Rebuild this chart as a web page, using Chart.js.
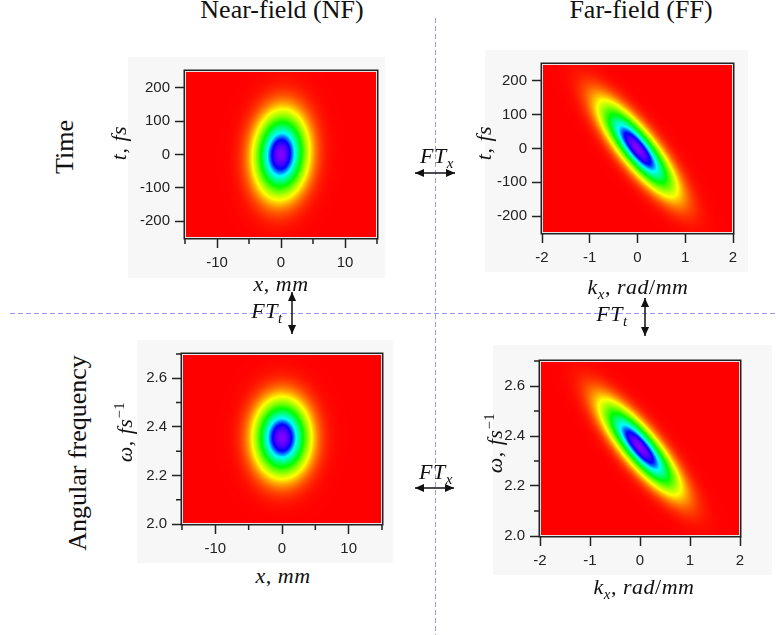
<!DOCTYPE html>
<html>
<head>
<meta charset="utf-8">
<script src="https://cdn.jsdelivr.net/npm/chart.js@4.4.0/dist/chart.umd.min.js"></script>
<style>
  body { margin:0; width:776px; height:635px; background:#fff; position:relative; overflow:hidden;
         font-family:"Liberation Serif","Times New Roman",serif; color:#111; }
  canvas { position:absolute; background:#f7f7f7; }
  svg { position:absolute; left:0; top:0; }
  .lbl { position:absolute; transform:translate(-50%,-50%); white-space:nowrap; line-height:1; }
  .rot { transform:translate(-50%,-50%) rotate(-90deg); }
  .head { font-size:26px; }
  .math { font-size:22px; letter-spacing:0.5px; }
  sub, sup { font-size:68%; line-height:0; }
</style>
</head>
<body>
<svg width="776" height="635">
  <defs>
    <marker id="ah" viewBox="0 0 10 10" refX="10" refY="5" markerUnits="userSpaceOnUse"
            markerWidth="10" markerHeight="9" orient="auto-start-reverse">
      <path d="M0,0.5 L10,5 L0,9.5 z" fill="#111"/>
    </marker>
  </defs>
  <line x1="435.5" y1="18" x2="435.5" y2="635" stroke="#9a9aff" stroke-width="1" stroke-dasharray="5 3"/>
  <line x1="10" y1="313.5" x2="776" y2="313.5" stroke="#9a9aff" stroke-width="1" stroke-dasharray="5 3"/>
  <line x1="415" y1="173" x2="455" y2="173" stroke="#111" stroke-width="1.5" marker-start="url(#ah)" marker-end="url(#ah)"/>
  <line x1="415" y1="488" x2="454" y2="488" stroke="#111" stroke-width="1.5" marker-start="url(#ah)" marker-end="url(#ah)"/>
  <line x1="292" y1="292" x2="292" y2="334" stroke="#111" stroke-width="1.5" marker-start="url(#ah)" marker-end="url(#ah)"/>
  <line x1="645" y1="298" x2="645" y2="336" stroke="#111" stroke-width="1.5" marker-start="url(#ah)" marker-end="url(#ah)"/>
</svg>

<canvas id="nfTime" width="257" height="221" style="left:128px;top:57px"></canvas>
<canvas id="ffTime" width="263" height="222" style="left:485px;top:50px"></canvas>
<canvas id="nfFreq" width="256" height="223" style="left:137px;top:340px"></canvas>
<canvas id="ffFreq" width="279" height="230" style="left:493px;top:345px"></canvas>

<div class="lbl head" style="left:282px;top:10px">Near-field (NF)</div>
<div class="lbl head" style="left:641px;top:10px">Far-field (FF)</div>
<div class="lbl head rot" style="left:65px;top:147px">Time</div>
<div class="lbl head rot" style="left:78px;top:453px">Angular frequency</div>

<div class="lbl math rot" style="left:119px;top:143px"><i>t</i>, <i>fs</i></div>
<div class="lbl math rot" style="left:484px;top:143px"><i>t</i>, <i>fs</i></div>
<div class="lbl math rot" style="left:125px;top:432px"><i>ω</i>, <i>fs</i><sup>−1</sup></div>
<div class="lbl math rot" style="left:495px;top:443px"><i>ω</i>, <i>fs</i><sup>−1</sup></div>
<div class="lbl math" style="left:281px;top:284px"><i>x</i>, <i>mm</i></div>
<div class="lbl math" style="left:283px;top:576px"><i>x</i>, <i>mm</i></div>
<div class="lbl math" style="left:638px;top:287px"><i>k</i><sub><i>x</i></sub>, <i>rad</i>/<i>mm</i></div>
<div class="lbl math" style="left:644px;top:587px"><i>k</i><sub><i>x</i></sub>, <i>rad</i>/<i>mm</i></div>

<div class="lbl math" style="left:437px;top:156px"><i>FT</i><sub><i>x</i></sub></div>
<div class="lbl math" style="left:436px;top:472px"><i>FT</i><sub><i>x</i></sub></div>
<div class="lbl math" style="left:267px;top:311px"><i>FT</i><sub><i>t</i></sub></div>
<div class="lbl math" style="left:612px;top:314px"><i>FT</i><sub><i>t</i></sub></div>

<script>
// axis ranges
var nfX = [-15, 15];
var ffX = [-2, 2];
var timeY = [-250, 250];
var freqY = [2.0, 2.7];

// labelled ticks and the short unlabelled ones
var nfXTicks = [-10, 0, 10];
var nfXMinor = [-15, -5, 5, 15];
var ffXTicks = [-2, -1, 0, 1, 2];
var timeYTicks = [-200, -100, 0, 100, 200];
var freqYTicks = [2.0, 2.2, 2.4, 2.6];
var freqYMinor = [2.1, 2.3, 2.5, 2.7];

// beam: [x centre, y centre, x width, y width, x shift per y unit]
var nfTimeBeam = [0, 0, 2.5, 76, 0.0022];
var ffTimeBeam = [0, 0, 0.26, 80, -0.0049];
var nfFreqBeam = [0, 2.355, 2.5, 0.095, 0];
var ffFreqBeam = [0, 2.355, 0.25, 0.107, -3.6];

// rainbow colour table (low -> high), colours bunched toward the peak
var rampStops = [0, 0.2, 0.45, 0.7, 0.85, 1];
var rampColors = [[255,0,0],[255,255,0],[0,255,0],[0,255,255],[0,0,255],[130,0,255]];

Chart.defaults.font.family = '"Liberation Sans", Arial, sans-serif';
Chart.defaults.font.size = 15;
Chart.defaults.color = '#222';

function ramp(v) {
  for (var i = 1; i < rampStops.length; i++) {
    if (v <= rampStops[i]) {
      var f = (v - rampStops[i-1]) / (rampStops[i] - rampStops[i-1]);
      var a = rampColors[i-1], b = rampColors[i];
      return [a[0] + (b[0]-a[0])*f, a[1] + (b[1]-a[1])*f, a[2] + (b[2]-a[2])*f];
    }
  }
  return rampColors[rampColors.length-1];
}

var beamMap = {
  id: 'beamMap',
  beforeDatasetsDraw: function (chart, args, opts) {
    var b = opts.beam;
    var xs = chart.scales.x, ys = chart.scales.y, a = chart.chartArea;
    var x0 = Math.round(a.left), y0 = Math.round(a.top);
    var w = Math.round(a.right) - x0, h = Math.round(a.bottom) - y0;
    var img = chart.ctx.createImageData(w, h);
    for (var j = 0; j < h; j++) {
      var dy = ys.getValueForPixel(y0 + j + 0.5) - b[1];
      for (var i = 0; i < w; i++) {
        var dx = xs.getValueForPixel(x0 + i + 0.5) - b[0] - b[4] * dy;
        var v = Math.exp(-0.5 * ((dx / b[2]) * (dx / b[2]) + (dy / b[3]) * (dy / b[3])));
        var c = ramp(v), k = 4 * (j * w + i);
        img.data[k] = c[0]; img.data[k+1] = c[1]; img.data[k+2] = c[2]; img.data[k+3] = 255;
      }
    }
    chart.ctx.putImageData(img, x0, y0);
  },
  afterDatasetsDraw: function (chart, args, opts) {
    var ctx = chart.ctx, a = chart.chartArea;
    var xs = chart.scales.x, ys = chart.scales.y;
    ctx.save();
    ctx.strokeStyle = '#e4e4e4';
    ctx.lineWidth = 1;
    ctx.strokeRect(a.left + 0.5, a.top + 0.5, a.right - a.left - 1, a.bottom - a.top - 1);
    ctx.strokeStyle = '#222';
    ctx.lineWidth = 1.5;
    ctx.strokeRect(a.left - 0.75, a.top - 0.75, a.right - a.left + 1.5, a.bottom - a.top + 1.5);
    ctx.beginPath();
    (opts.xMinor || []).forEach(function (v) {
      var p = xs.getPixelForValue(v);
      ctx.moveTo(p, a.bottom); ctx.lineTo(p, a.bottom + 6);
    });
    (opts.yMinor || []).forEach(function (v) {
      var p = ys.getPixelForValue(v);
      ctx.moveTo(a.left - 6, p); ctx.lineTo(a.left, p);
    });
    ctx.stroke();
    ctx.restore();
  }
};

function axisGrid() {
  return { drawOnChartArea: false, drawTicks: true, tickLength: 10, tickColor: '#222', tickWidth: 1.5 };
}

function makeMap(id, beam, xr, yr, xTicks, yTicks, xMinor, yMinor, yFmt, box) {
  new Chart(document.getElementById(id), {
    type: 'scatter',
    data: { datasets: [] },
    options: {
      responsive: false,
      animation: false,
      events: [],
      layout: { padding: { top: box.pt, right: box.pr, left: 0, bottom: 0 } },
      plugins: {
        legend: { display: false },
        tooltip: { enabled: false },
        beamMap: { beam: beam, xMinor: xMinor, yMinor: yMinor }
      },
      scales: {
        x: {
          type: 'linear', min: xr[0], max: xr[1],
          afterBuildTicks: function (s) { s.ticks = xTicks.map(function (v) { return { value: v }; }); },
          afterFit: function (s) { s.height = box.xh; },
          grid: axisGrid(),
          border: { display: false },
          ticks: { autoSkip: false, maxRotation: 0, padding: 6, callback: function (v) { return String(v); } }
        },
        y: {
          type: 'linear', min: yr[0], max: yr[1],
          afterBuildTicks: function (s) { s.ticks = yTicks.map(function (v) { return { value: v }; }); },
          afterFit: function (s) { s.width = box.yw; },
          grid: axisGrid(),
          border: { display: false },
          ticks: { autoSkip: false, padding: 5, callback: yFmt }
        }
      }
    },
    plugins: [beamMap]
  });
}

var intFmt = function (v) { return String(v); };
var oneDec = function (v) { return v.toFixed(1); };

makeMap('nfTime', nfTimeBeam, nfX, timeY, nfXTicks, timeYTicks, nfXMinor, [], intFmt,
        { pt: 6, pr: 8, yw: 57, xh: 40 });
makeMap('ffTime', ffTimeBeam, ffX, timeY, ffXTicks, timeYTicks, [], [], intFmt,
        { pt: 8, pr: 15, yw: 57, xh: 39 });
makeMap('nfFreq', nfFreqBeam, nfX, freqY, nfXTicks, freqYTicks, nfXMinor, freqYMinor, oneDec,
        { pt: 9, pr: 11, yw: 45, xh: 39 });
makeMap('ffFreq', ffFreqBeam, ffX, freqY, ffXTicks, freqYTicks, [], freqYMinor, oneDec,
        { pt: 16, pr: 32, yw: 47, xh: 39 });
</script>
</body>
</html>
